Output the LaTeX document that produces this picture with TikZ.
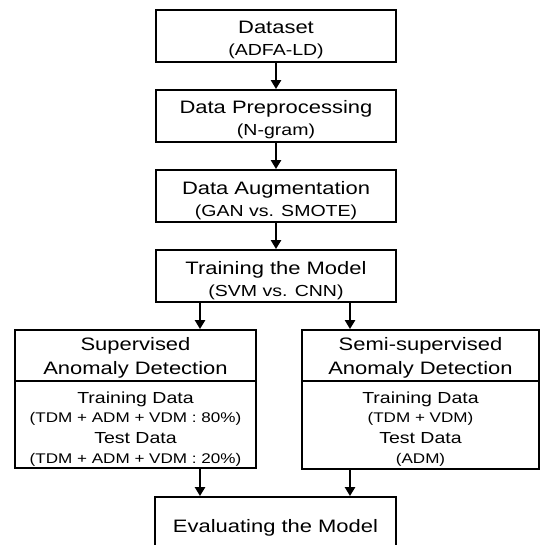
\documentclass[tikz,border=0pt]{standalone}
\usepackage{fontspec}
\setmainfont{Liberation Sans}[FakeStretch=1.22]
\usetikzlibrary{arrows.meta}
\begin{document}
\begin{tikzpicture}[x=1pt,y=-1pt,
  box/.style={draw=black,line width=1.8pt,rectangle,inner sep=0pt},
  title/.style={anchor=base,inner sep=0pt,font=\fontsize{18}{20}\selectfont},
  sub/.style={anchor=base,inner sep=0pt,font=\fontsize{16}{18}\selectfont},
  small/.style={anchor=base,inner sep=0pt,font=\fontsize{14}{16}\selectfont},
  arr/.style={line width=2.6pt,-{Triangle[length=9pt,width=10pt]}},
  divider/.style={line width=2.4pt}]
\clip (0,0) rectangle (541,545);
\fill[white] (0,0) rectangle (541,545);
% top column boxes
\node[box,minimum width=240pt,minimum height=52pt] (ds) at (276,36) {};
\node[box,minimum width=240pt,minimum height=52pt] (pp) at (276,116) {};
\node[box,minimum width=240pt,minimum height=52pt] (au) at (276,196) {};
\node[box,minimum width=240pt,minimum height=52pt] (tr) at (276,276) {};
\node[title] (dsA) at (276,34) {Dataset};
\node[sub] (dsB) at (276,56) {(ADFA-LD)};
\node[title] (ppA) at (276,114) {Data Preprocessing};
\node[sub] (ppB) at (276,136) {(N-gram)};
\node[title] (auA) at (276,194) {Data Augmentation};
\node[sub] (auB) at (276,216) {(GAN vs. SMOTE)};
\node[title] (trA) at (276,274) {Training the Model};
\node[sub] (trB) at (276,296) {(SVM vs. CNN)};
% lower boxes
\node[box,minimum width=241pt,minimum height=138pt] (sup) at (135.5,399) {};
\node[box,minimum width=237pt,minimum height=139pt] (semi) at (420.5,399.5) {};
\draw[divider] (sup.west |- 0,381) -- (sup.east |- 0,381);
\draw[divider] (semi.west |- 0,381) -- (semi.east |- 0,381);
\node[title] (supA) at (135.5,350) {Supervised};
\node[title] (supB) at (135.5,374) {Anomaly Detection};
\node[sub] (supC) at (135.5,403) {Training Data};
\node[small] (supD) at (135.5,422) {(TDM + ADM + VDM : 80\%)};
\node[sub] (supE) at (135.5,443) {Test Data};
\node[small] (supF) at (135.5,463) {(TDM + ADM + VDM : 20\%)};
\node[title] (semiA) at (420.5,350) {Semi-supervised};
\node[title] (semiB) at (420.5,374) {Anomaly Detection};
\node[sub] (semiC) at (420.5,403) {Training Data};
\node[small] (semiD) at (420.5,422) {(TDM + VDM)};
\node[sub] (semiE) at (420.5,443) {Test Data};
\node[small] (semiF) at (420.5,463) {(ADM)};
% evaluation box (cut off at bottom)
\node[box,minimum width=241pt,minimum height=66pt] (ev) at (275.5,530) {};
\node[title] (evA) at (275.5,532) {Evaluating the Model};
% arrows
\coordinate (cl) at (200,0);
\coordinate (cr) at (350,0);
\draw[arr] (ds.south) -- (pp.north);
\draw[arr] (pp.south) -- (au.north);
\draw[arr] (au.south) -- (tr.north);
\draw[arr] (tr.south -| cl) -- (sup.north -| cl);
\draw[arr] (tr.south -| cr) -- (semi.north -| cr);
\draw[arr] (sup.south -| cl) -- (ev.north -| cl);
\draw[arr] (semi.south -| cr) -- (ev.north -| cr);
\end{tikzpicture}
\end{document}
